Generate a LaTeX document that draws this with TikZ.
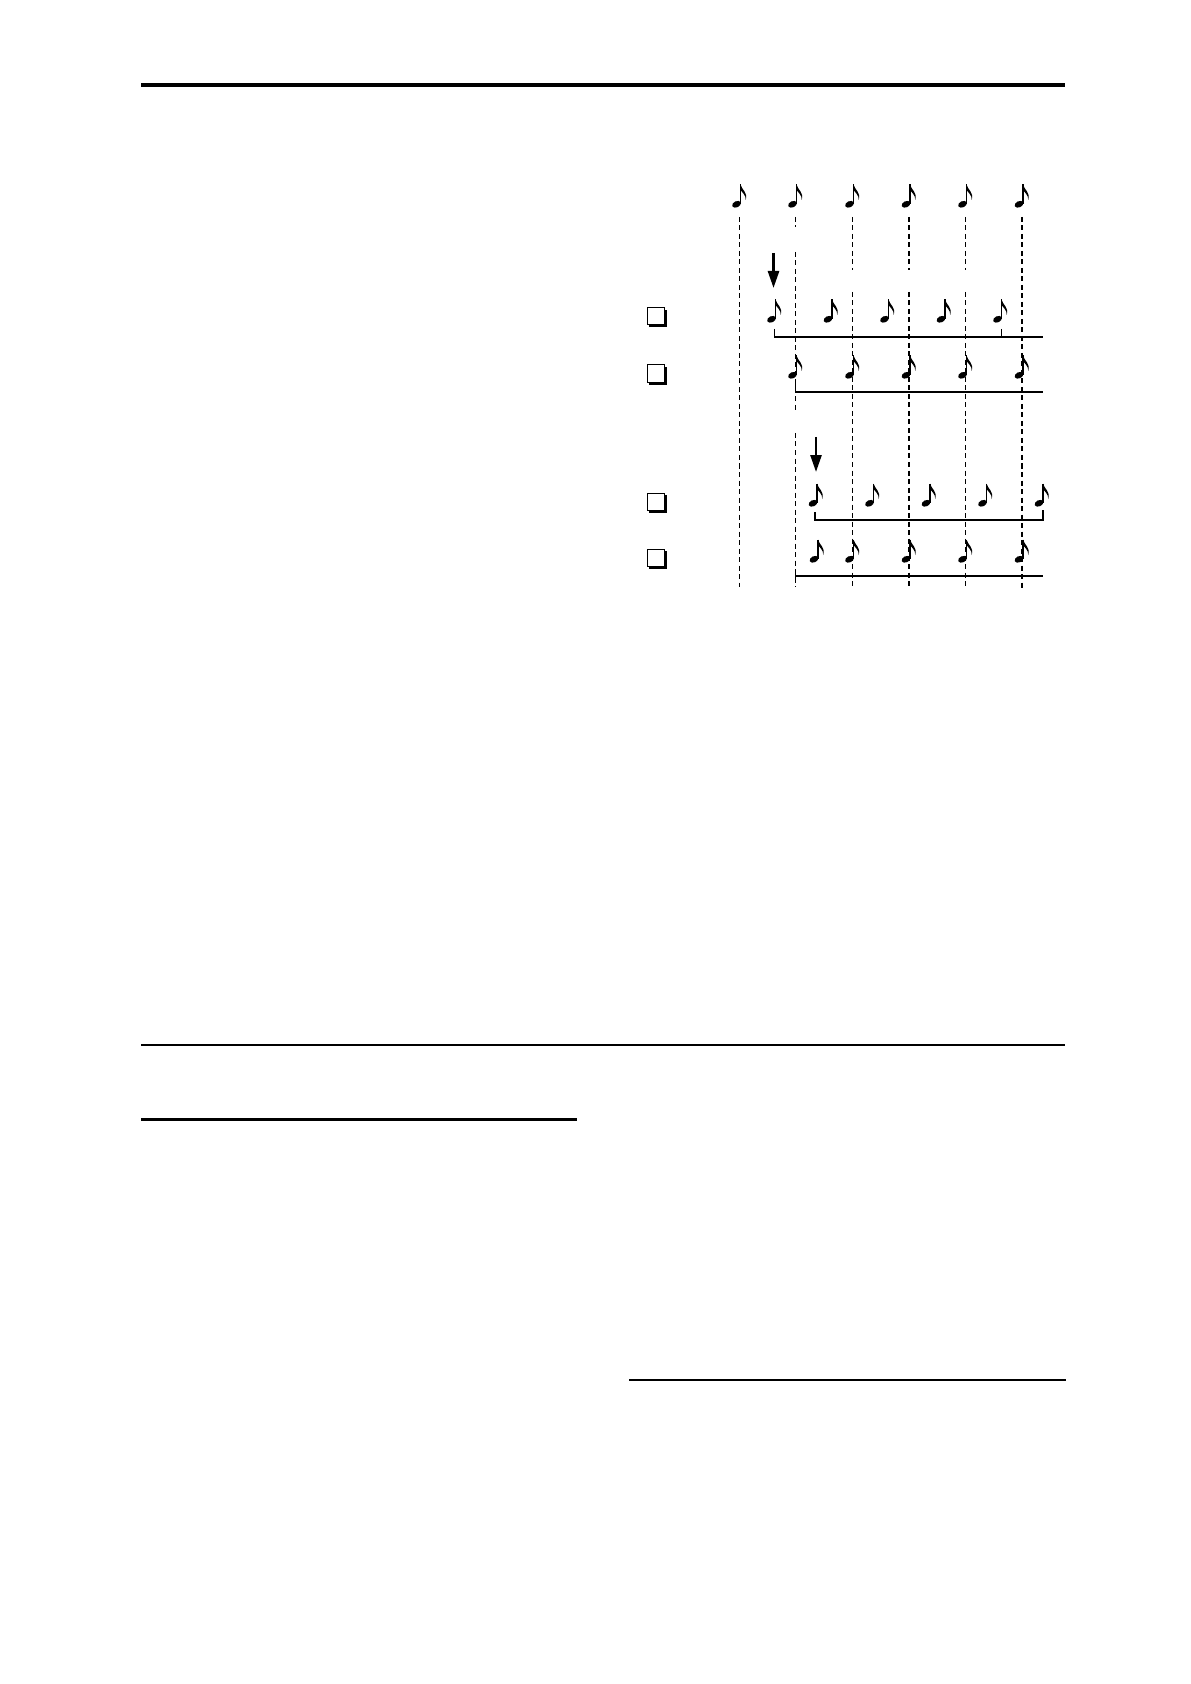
\documentclass[tikz,border=0pt]{standalone}
\usetikzlibrary{arrows.meta}

\tikzset{
  eighth/.pic={
    \fill[rotate around={25:(-4,-3.7)}] (-4,-3.7) ellipse [x radius=4.6, y radius=3.1];
    \draw[line width=0.6pt] (0,-4) -- (0,-23.5);
    \fill (0,-23.5) .. controls (1.2,-18) and (7.5,-16) .. (5.2,-8)
          .. controls (5.4,-13) and (2,-15) .. (0,-18) -- cycle;
  },
  optbox/.pic={
    \fill (2.3,2.3) rectangle (19.8,19.8);
    \filldraw[fill=white, line width=0.5pt] (0,0) rectangle (17.5,17.5);
  },
  beat/.style={line width=0.6pt, dash pattern=on 2.5pt off 1.75pt},
  bracket/.style={line width=0.75pt},
  shiftarrow/.style={line width=1.3pt, -{Triangle[length=8.5pt,width=5.5pt]}},
}

\begin{document}
\begin{tikzpicture}[x=0.5pt,y=-0.5pt]
  \useasboundingbox (0,0) rectangle (1190,1684);

  % page rules
  \draw[line width=1.75pt] (141,85) -- (1065,85);
  \draw[line width=0.65pt] (141,1045) -- (1065,1045);
  \draw[line width=1.1pt] (141,1119.5) -- (577,1119.5);
  \draw[line width=1.1pt] (629,1380) -- (1066,1380);

  % beat lines
  \draw[beat] (739.5,217) -- (739.5,587);
  \draw[beat] (795.5,217) -- (795.5,227);
  \draw[beat] (795.5,252) -- (795.5,410);
  \draw[beat] (795.5,433) -- (795.5,587);
  \foreach \x in {852.5,909,965.5} {
    \draw[beat] (\x,217) -- (\x,270);
    \draw[beat] (\x,292) -- (\x,587);
  }
  \draw[beat] (1022,217) -- (1022,588);

  % reference beats
  \foreach \x in {739.5,795.5,852.5,909,965.5,1022}
    \pic at (\x+1,208) {eighth};

  % first shift
  \draw[shiftarrow] (773.5,253) -- (773.5,288);
  \pic at (647,307.5) {optbox};
  \foreach \x in {775.5,832,888.5,945,1001.5}
    \pic at (\x,323) {eighth};
  \draw[bracket] (774.5,329) -- (774.5,337) -- (1043,337);
  \draw[bracket] (1001.5,329) -- (1001.5,337);

  \pic at (647,365) {optbox};
  \foreach \x in {795.5,852.5,909,965.5,1022}
    \pic at (\x+1,379) {eighth};
  \draw[bracket] (795.5,382) -- (795.5,392) -- (1043,392);

  % second shift
  \draw[shiftarrow] (816,437) -- (816,472);
  \pic at (647,493) {optbox};
  \foreach \x in {817,873.5,930,986.5,1043}
    \pic at (\x,507) {eighth};
  \draw[bracket] (815,512) -- (815,520) -- (1043,520) -- (1043,510);

  \pic at (647,549) {optbox};
  \foreach \x in {817,852.5,909,965.5,1022}
    \pic at (\x+1,563) {eighth};
  \draw[bracket] (795.5,576) -- (1043,576);
  \draw[bracket] (795.5,571) -- (795.5,581);
\end{tikzpicture}
\end{document}
